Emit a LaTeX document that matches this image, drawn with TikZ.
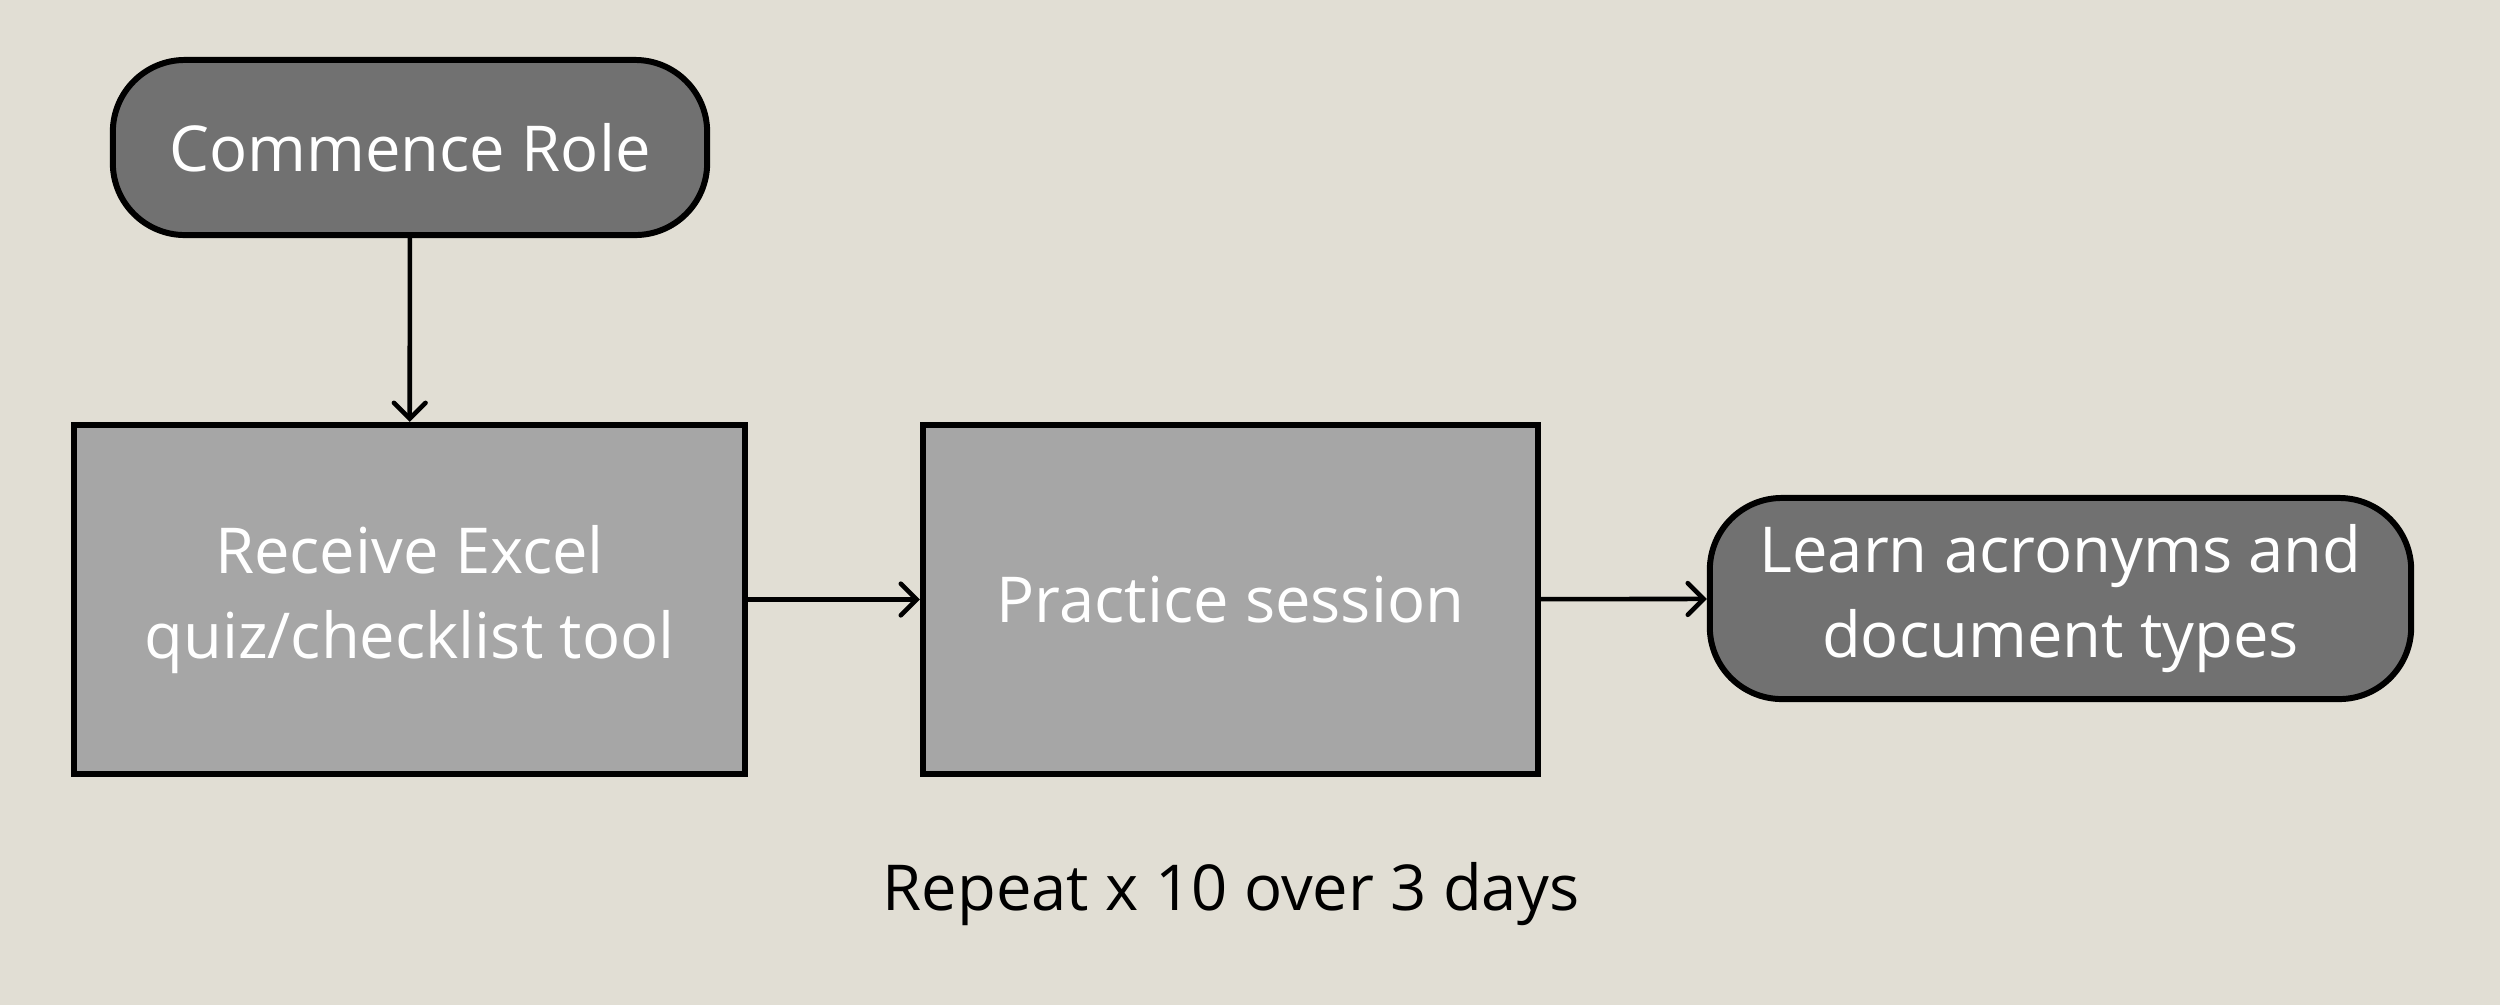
\documentclass[tikz,border=0pt]{standalone}
\usepackage{fontspec}
\setmainfont{Open Sans}
\usetikzlibrary{arrows.meta}

\definecolor{bgcol}{HTML}{E1DED4}
\definecolor{darkfill}{HTML}{717171}
\definecolor{lightfill}{HTML}{A6A6A6}

\begin{document}
\begin{tikzpicture}[x=0.01cm,y=-0.01cm,>={Straight Barb[length=4.5pt,width=9pt,line cap=round]},
  darkbox/.style={draw,line width=1.7pt,fill=darkfill,rounded corners=0.72cm,text=white,align=center,inner sep=0pt,font=\fontsize{18}{24}\selectfont},
  lightbox/.style={draw,line width=1.7pt,fill=lightfill,text=white,align=center,inner sep=0pt,font=\fontsize{18}{24}\selectfont},
  flow/.style={->,line width=1.3pt,line cap=round}]
\fill[bgcol] (0,0) rectangle (2500,1005);

\node[darkbox,minimum width=5.94cm,minimum height=1.75cm] at (410,147.5) (commence) {Commence Role};

\node[lightbox,minimum width=6.71cm,minimum height=3.49cm] at (409.5,599.5) (receive) {Receive Excel\\quiz/checklist tool};
\node[lightbox,minimum width=6.15cm,minimum height=3.49cm] at (1230.5,599.5) (practice) {Practice session};
\node[darkbox,minimum width=7.01cm,minimum height=2.01cm] at (2060.5,598.5) (learn) {Learn acronyms and\\document types};

\node[font=\fontsize{18}{24}\selectfont] at (1231,894) (repeat) {Repeat x 10 over 3 days};

\draw[flow] (commence) -- (receive);
\draw[flow] (receive) -- (practice);
\draw[flow] (practice) -- (learn);

\end{tikzpicture}
\end{document}
